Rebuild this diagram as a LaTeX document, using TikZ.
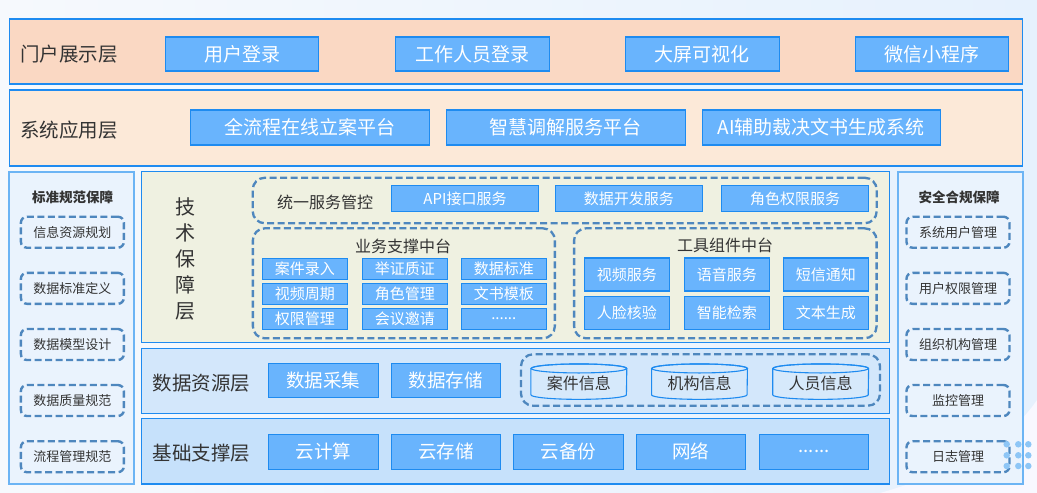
\documentclass[tikz,border=0pt]{standalone}
\usepackage{fontspec}
\setmainfont{Noto Sans CJK SC}
\usetikzlibrary{positioning}
\definecolor{bgA}{HTML}{F6F9FD}
\definecolor{bgB}{HTML}{E6F1FD}
\definecolor{btnfill}{HTML}{69B4FD}
\definecolor{btnline}{HTML}{1E8BF0}
\definecolor{layline}{HTML}{1E8BF0}
\definecolor{portal}{HTML}{FAD8C3}
\definecolor{sysapp}{HTML}{FCE9D8}
\definecolor{tech}{HTML}{EFF1E1}
\definecolor{datal}{HTML}{D3E7FB}
\definecolor{basel}{HTML}{C6E1FB}
\definecolor{sidefill}{HTML}{EAF3FD}
\definecolor{sideline}{HTML}{6CB4F4}
\definecolor{dashc}{HTML}{4E87BE}
\definecolor{txt}{HTML}{333333}
\definecolor{cylfill}{HTML}{D6E9FB}
\definecolor{dotc}{HTML}{8EC6F6}
\newcommand{\fs}[1]{\fontsize{#1}{#1}\selectfont}
\tikzset{
  layer/.style={draw=layline, line width=1.2pt, inner sep=0pt},
  btn/.style={draw=btnline, fill=btnfill, line width=1.1pt, text=white, inner sep=0pt},
  big/.style={btn, font=\fs{19}},
  mid/.style={btn, font=\fs{15}},
  lab/.style={text=txt, font=\fs{19.5}, inner sep=0pt},
  side/.style={draw=sideline, fill=sidefill, line width=2pt, inner sep=0pt},
  sidetitle/.style={text=txt, font=\fs{13.5}\bfseries, inner sep=0pt},
  sideitem/.style={draw=dashc, line width=2.4pt, dash pattern=on 7pt off 3.5pt, rounded corners=6pt, text=txt, font=\fs{13}, minimum width=103pt, minimum height=31pt, inner sep=0pt},
  dbox/.style={draw=dashc, line width=2.3pt, dash pattern=on 7pt off 3.5pt, rounded corners=12pt, inner sep=0pt},
  sub/.style={text=txt, font=\fs{16}, inner sep=0pt},
  cylbox/.style={minimum width=95.5pt, minimum height=35pt, inner sep=0pt, text=txt, font=\fs{16}},
  cyl/.style={draw=btnline, fill=cylfill, line width=1.1pt},
  dot/.style={circle, fill=dotc, inner sep=0pt, minimum size=6.5pt}
}
\begin{document}
\begin{tikzpicture}[x=1pt, y=-1pt]
\useasboundingbox (0,0) rectangle (1037,493);
% background
\shade[left color=bgA, right color=bgB] (0,0) rectangle (1037,493);
\fill[bgB!70!blue!8] (880,493) .. controls (960,470) and (1010,440) .. (1037,400) -- (1037,493) -- cycle;
% layer 1
\node[layer, fill=portal, minimum width=1013pt, minimum height=65pt] (L1) at (516.1,51.5) {};
\node[lab] (L1t) at (69,54) {门户展示层};
\node[big, minimum width=153pt, minimum height=34pt] (p1) at (242.3,54) {用户登录};
\node[big, minimum width=154pt, minimum height=34pt] (p2) at (472.2,54) {工作人员登录};
\node[big, minimum width=154pt, minimum height=34pt] (p3) at (702.3,54) {大屏可视化};
\node[big, minimum width=153pt, minimum height=34pt] (p4) at (932,54) {微信小程序};
% layer 2
\node[layer, fill=sysapp, minimum width=1013pt, minimum height=76pt] (L2) at (516.1,128) {};
\node[lab] (L2t) at (69,130) {系统应用层};
\node[big, minimum width=239pt, minimum height=35pt] (s1) at (309.7,127.5) {全流程在线立案平台};
\node[big, minimum width=239pt, minimum height=35pt] (s2) at (565.7,127.5) {智慧调解服务平台};
\node[big, minimum width=238pt, minimum height=35pt] (s3) at (821.3,127.5) {AI辅助裁决文书生成系统};
% left column
\node[side, minimum width=125pt, minimum height=312pt] (LC) at (71.9,327.9) {};
\node[sidetitle] (LCt) at (72.7,197) {标准规范保障};
\node[sideitem] (l1) at (72.4,232.2) {信息资源规划};
\node[sideitem] (l2) at (72.4,288.3) {数据标准定义};
\node[sideitem] (l3) at (72.4,344.5) {数据模型设计};
\node[sideitem] (l4) at (72.4,400.5) {数据质量规范};
\node[sideitem] (l5) at (72.4,456.7) {流程管理规范};
% right column
\node[side, minimum width=125pt, minimum height=312pt] (RC) at (960,327.9) {};
\node[sidetitle] (RCt) at (959,197) {安全合规保障};
\node[sideitem] (r1) at (958,232.2) {系统用户管理};
\node[sideitem] (r2) at (958,288.3) {用户权限管理};
\node[sideitem] (r3) at (958,344.5) {组织机构管理};
\node[sideitem] (r4) at (958,400.5) {监控管理};
\node[sideitem] (r5) at (958,456.7) {日志管理};
\foreach \xx/\nm in {1006.7/a,1018.3/b,1028.3/c}{
  \foreach \yy/\mm in {444.3/a,455.3/b,466/c}{
    \node[dot] (d\nm\mm) at (\xx,\yy) {};
  }
}
% tech layer
\node[layer, fill=tech, minimum width=748pt, minimum height=171pt] (T) at (515.85,256.65) {};
\node[text=txt, font=\fs{20}, inner sep=0pt, align=center] (Tt) at (185,259) {技\\[5.8pt]术\\[5.8pt]保\\[5.8pt]障\\[5.8pt]层};
\node[dbox, minimum width=624pt, minimum height=45.5pt] (U) at (564.7,200.5) {};
\node[sub] (Ut) at (325,202.7) {统一服务管控};
\node[mid, minimum width=146.5pt, minimum height=26pt] (u1) at (465,198.7) {API接口服务};
\node[mid, minimum width=147.5pt, minimum height=26pt] (u2) at (628.85,198.7) {数据开发服务};
\node[mid, minimum width=147.5pt, minimum height=26pt] (u3) at (795,198.7) {角色权限服务};
\node[dbox, minimum width=302pt, minimum height=110pt] (B) at (403.85,283.3) {};
\node[sub] (Bt) at (403,246) {业务支撑中台};
\node[mid, minimum width=85pt, minimum height=21pt] (b11) at (304.8,268.8) {案件录入};
\node[mid, minimum width=85pt, minimum height=21pt] (b12) at (404.8,268.8) {举证质证};
\node[mid, minimum width=85pt, minimum height=21pt] (b13) at (503.8,268.8) {数据标准};
\node[mid, minimum width=85pt, minimum height=21pt] (b21) at (304.8,293.65) {视频周期};
\node[mid, minimum width=85pt, minimum height=21pt] (b22) at (404.8,293.65) {角色管理};
\node[mid, minimum width=85pt, minimum height=21pt] (b23) at (503.8,293.65) {文书模板};
\node[mid, minimum width=85pt, minimum height=21pt] (b31) at (304.8,318.8) {权限管理};
\node[mid, minimum width=85pt, minimum height=21pt] (b32) at (404.8,318.8) {会议邀请};
\node[mid, minimum width=85pt, minimum height=21pt] (b33) at (503.8,318.8) {......};
\node[dbox, minimum width=302.5pt, minimum height=110pt] (G) at (725.35,283.3) {};
\node[sub] (Gt) at (725,245) {工具组件中台};
\node[mid, minimum width=85pt, minimum height=33pt] (g11) at (626.8,274.5) {视频服务};
\node[mid, minimum width=85pt, minimum height=33pt] (g12) at (726.8,274.5) {语音服务};
\node[mid, minimum width=85.5pt, minimum height=33pt] (g13) at (825.85,274.5) {短信通知};
\node[mid, minimum width=85pt, minimum height=33pt] (g21) at (626.8,312.65) {人脸核验};
\node[mid, minimum width=85pt, minimum height=33pt] (g22) at (726.8,312.65) {智能检索};
\node[mid, minimum width=85.5pt, minimum height=33pt] (g23) at (825.85,312.65) {文本生成};
% data layer
\node[layer, fill=datal, minimum width=748pt, minimum height=65pt] (D) at (515.85,380.8) {};
\node[lab] (Dt) at (201.7,383.3) {数据资源层};
\node[big, font=\fs{18.5}, minimum width=110pt, minimum height=34pt] (da1) at (323.3,380.3) {数据采集};
\node[big, font=\fs{18.5}, minimum width=109.5pt, minimum height=34pt] (da2) at (445.85,380.3) {数据存储};
\node[dbox, minimum width=359pt, minimum height=51.4pt] (DB) at (700.5,380) {};
\foreach \cx/\nm/\tx in {578.85/c1/案件信息, 699.5/c2/机构信息, 820.65/c3/人员信息}{
  \node[cylbox] (\nm) at (\cx,381.65) {};
  \path[cyl] ([yshift=-4.5pt]\nm.north west) -- ([yshift=4.5pt]\nm.south west)
     arc[start angle=180, end angle=360, x radius=47.75pt, y radius=4.5pt]
     -- ([yshift=-4.5pt]\nm.north east)
     arc[start angle=0, end angle=180, x radius=47.75pt, y radius=4.5pt] -- cycle;
  \draw[draw=btnline, line width=1.1pt] ([yshift=-4.5pt]\nm.north) ellipse [x radius=47.75pt, y radius=4.5pt];
  \node[text=txt, font=\fs{16}, inner sep=0pt] at ([yshift=-2pt]\nm.center) {\tx};
}
% base layer
\node[layer, fill=basel, minimum width=748pt, minimum height=65.5pt] (F) at (515.85,451.15) {};
\node[lab] (Ft) at (201.7,453.3) {基础支撑层};
\node[big, font=\fs{18.5}, minimum width=110pt, minimum height=35pt] (f1) at (323.3,451.8) {云计算};
\node[big, font=\fs{18.5}, minimum width=109.5pt, minimum height=35pt] (f2) at (445.85,451.8) {云存储};
\node[big, font=\fs{18.5}, minimum width=110pt, minimum height=35pt] (f3) at (568.3,451.8) {云备份};
\node[big, font=\fs{18.5}, minimum width=109.5pt, minimum height=35pt] (f4) at (690.85,451.8) {网络};
\node[big, font=\fs{18.5}, minimum width=109.5pt, minimum height=35pt] (f5) at (814,451.8) {......};
\end{tikzpicture}
\end{document}
